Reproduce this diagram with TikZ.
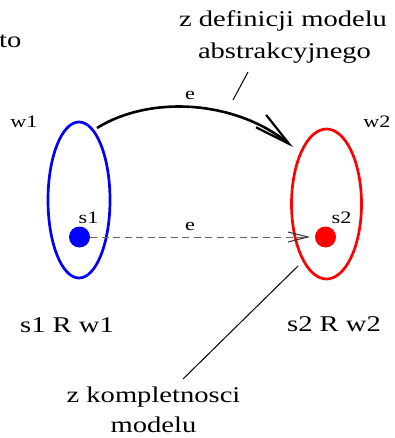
\documentclass[tikz,border=0pt]{standalone}
\usepackage{fontspec}
\setmainfont{Liberation Serif}
\usetikzlibrary{arrows.meta,shapes.geometric}
\newcommand\widetxt[1]{\scalebox{1.27}[1]{#1}}
\begin{document}
\begin{tikzpicture}[x=1pt,y=-1pt,
  big/.style={font=\fontsize{22.5}{26}\selectfont, inner sep=0pt, anchor=base},
  small/.style={font=\fontsize{17.5}{20}\selectfont, inner sep=0pt, anchor=base},
  world/.style={ellipse, draw, line width=2.7pt, inner sep=0pt},
  stateDot/.style={circle, minimum size=21pt, inner sep=0pt},
  leader/.style={line width=1pt, black},
  mainarrow/.style={line width=2.6pt, -{Straight Barb[length=36pt,width=16pt,line width=2.2pt]}},
  dasharrow/.style={line width=1pt, black!60, dash pattern=on 7pt off 4.5pt,
     -{Straight Barb[length=20pt,width=10pt,line width=1pt,color=black!80]}}
]
\useasboundingbox (0,0) rectangle (395,438);

% worlds
\node[world, draw=blue, minimum width=62pt, minimum height=156pt] (w1e) at (79,200) {};
\node[world, draw=red, minimum width=70pt, minimum height=150pt] (w2e) at (326.5,204) {};

% states
\node[stateDot, fill=blue] (s1dot) at (79.5,237) {};
\node[stateDot, fill=red] (s2dot) at (325.5,237) {};

% labels
\node[big, anchor=base west] (to) at (-1,48) {\widetxt{to}};
\node[big] (def1) at (283,27) {\widetxt{z definicji modelu}};
\node[big] (def2) at (284.5,59) {\widetxt{abstrakcyjnego}};
\node[small] (w1) at (24,128) {\widetxt{w1}};
\node[small] (w2) at (377,128) {\widetxt{w2}};
\node[small] (s1) at (88.5,223) {\widetxt{s1}};
\node[small] (s2) at (341.5,223) {\widetxt{s2}};
\node[small] (e1) at (190,100) {\widetxt{e}};
\node[small] (e2) at (190,230) {\widetxt{e}};
\node[big] (r1) at (67,332) {\widetxt{s1 R w1}};
\node[big] (r2) at (334,331) {\widetxt{s2 R w2}};
\node[big] (komp1) at (153.5,402) {\widetxt{z kompletnosci}};
\node[big] (komp2) at (153.5,432) {\widetxt{modelu}};

% connectors
\coordinate (ca) at (97,128);
\coordinate (cb) at (293,147);
\draw[mainarrow] (ca) .. controls (150,95) and (235,100) .. (cb);

\coordinate (dtip) at (310,237);
\draw[dasharrow] (s1dot.east) -- (dtip);

\coordinate (la) at (233,100);
\coordinate (lb) at (248,72);
\draw[leader] (la) -- (lb);

\coordinate (ka) at (183,379);
\coordinate (kb) at (298,266);
\draw[leader] (ka) -- (kb);
\end{tikzpicture}
\end{document}
